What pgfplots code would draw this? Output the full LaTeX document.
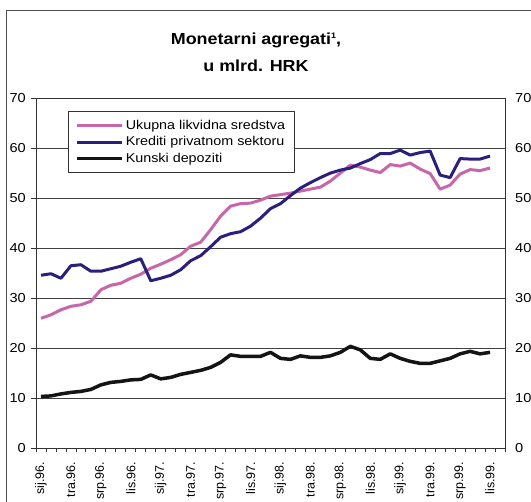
\documentclass[border=0pt]{standalone}
\usepackage{fontspec}
\setmainfont{Liberation Sans}[FakeStretch=1.12]
\newfontfamily\xlabfont{Liberation Sans}
\usepackage{pgfplots}
\usepackage{pgfplotstable}
\pgfplotsset{compat=1.18}

\definecolor{likc}{HTML}{C767A9}
\definecolor{kredc}{HTML}{2B1F7E}
\definecolor{kunc}{HTML}{141414}

% mjesecno, sij.96. (0) do lis.99. (45)
\pgfplotstableread{
i  lik  kred kun
0  26.0 34.6 10.4
1  26.7 34.9 10.5
2  27.7 34.0 10.9
3  28.4 36.5 11.2
4  28.7 36.7 11.4
5  29.4 35.4 11.8
6  31.7 35.4 12.7
7  32.6 35.9 13.2
8  33.0 36.4 13.4
9  34.0 37.2 13.7
10 34.8 37.9 13.8
11 36.0 33.5 14.7
12 36.8 34.0 13.9
13 37.7 34.6 14.2
14 38.7 35.7 14.8
15 40.4 37.5 15.2
16 41.2 38.5 15.6
17 43.7 40.3 16.2
18 46.4 42.2 17.2
19 48.4 42.9 18.7
20 48.9 43.3 18.4
21 49.0 44.4 18.4
22 49.6 46.0 18.4
23 50.4 47.9 19.2
24 50.7 48.9 18.0
25 51.0 50.5 17.8
26 51.4 52.0 18.5
27 51.8 53.1 18.2
28 52.2 54.1 18.2
29 53.4 55.0 18.5
30 55.0 55.6 19.2
31 56.6 56.0 20.4
32 56.2 56.9 19.7
33 55.6 57.7 18.0
34 55.1 58.9 17.8
35 56.7 58.9 18.9
36 56.4 59.6 18.0
37 57.0 58.6 17.4
38 55.8 59.1 17.0
39 54.9 59.4 17.0
40 51.8 54.6 17.5
41 52.6 54.1 18.0
42 54.8 57.9 18.9
43 55.7 57.8 19.4
44 55.5 57.8 18.9
45 56.0 58.4 19.2
}\agregati

\begin{document}
\begin{tikzpicture}[x=1pt,y=1pt]
\useasboundingbox (0,0) rectangle (531,502);
\fill[white] (0,0) rectangle (531,502);
\draw[black!70, line width=1pt] (6,0) -- (6,491) -- (531,491);
\node[anchor=base, font=\bfseries\fontsize{16}{18}\selectfont] at (256,457) {Monetarni agregati\raisebox{6pt}{\fontsize{8}{8}\selectfont 1},};
\node[anchor=base, font=\bfseries\fontsize{16}{18}\selectfont] at (256,430) {u mlrd. HRK};

\begin{axis}[
    at={(36pt,53.5pt)}, anchor=south west,
    width=469pt, height=350.5pt, scale only axis,
    xmin=-0.5, xmax=46.5, ymin=0, ymax=70,
    axis line style={black!80, line width=0.8pt},
    ytick={0,10,...,70},
    ymajorgrids,
    major grid style={black!75, line width=0.8pt},
    xtick={0,3,...,45},
    xticklabels={sij.96.,tra.96.,srp.96.,lis.96.,sij.97.,tra.97.,srp.97.,lis.97.,sij.98.,tra.98.,srp.98.,lis.98.,sij.99.,tra.99.,srp.99.,lis.99.},
    minor xtick={-0.5,0.5,...,46.5},
    major x tick style={draw=none},
    minor x tick style={black!80, line width=0.8pt},
    y tick style={black!80, line width=0.8pt},
    tick align=outside,
    major tick length=5pt, minor tick length=4pt,
    xtick pos=bottom, ytick pos=left,
    /pgf/number format/assume math mode=true,
    yticklabel style={font=\fontsize{13}{13}\selectfont, inner sep=0pt, xshift=-5pt},
    xticklabel style={font=\xlabfont\fontsize{12.5}{13}\selectfont, inner sep=0pt, yshift=-8pt, rotate=90, anchor=east},
    legend style={at={(0.068,0.963)}, anchor=north west, draw=black!80, fill=white,
        line width=0.8pt, font=\fontsize{12.8}{14}\selectfont,
        inner xsep=7pt, inner ysep=7pt, row sep=1.5pt, cells={anchor=west}},
    legend image code/.code={\draw[#1] (0pt,0pt) -- (45pt,0pt);},
    line join=round,
]
\addplot[color=likc, line width=3pt] table[x=i, y=lik] {\agregati};
\addlegendentry{Ukupna likvidna sredstva}
\addplot[color=kredc, line width=3pt] table[x=i, y=kred] {\agregati};
\addlegendentry{Krediti privatnom sektoru}
\addplot[color=kunc, line width=3.5pt] table[x=i, y=kun] {\agregati};
\addlegendentry{Kunski depoziti}
\end{axis}

\begin{axis}[
    at={(36pt,53.5pt)}, anchor=south west,
    width=469pt, height=350.5pt, scale only axis,
    xmin=-0.5, xmax=46.5, ymin=0, ymax=70,
    axis x line=none, axis y line*=right,
    axis line style={black!80, line width=0.8pt},
    ytick={0,10,...,70},
    y tick style={draw=none},
    /pgf/number format/assume math mode=true,
    yticklabel style={font=\fontsize{13}{13}\selectfont, inner sep=0pt, xshift=10pt},
]
\addplot[draw=none] coordinates {(0,0)};
\end{axis}
\end{tikzpicture}
\end{document}
